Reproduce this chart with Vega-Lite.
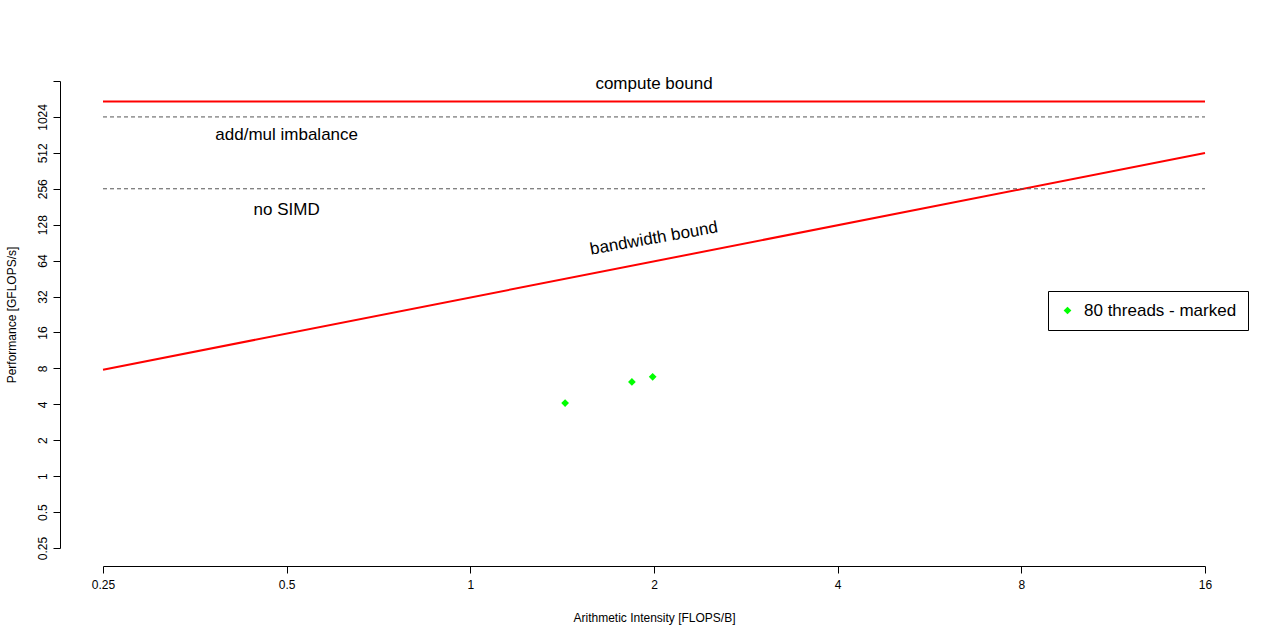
{
  "$schema": "https://vega.github.io/schema/vega-lite/v6.json",
  "width": 1102,
  "height": 467,
  "autosize": "none",
  "padding": {"left": 103, "top": 81, "right": 75, "bottom": 92},
  "background": "white",
  "config": {
    "view": {"stroke": null},
    "font": "Liberation Sans",
    "axis": {"grid": false, "labelFlush": false, "domainColor": "black", "tickColor": "black", "labelColor": "black", "titleColor": "black", "labelFont": "Liberation Sans", "titleFont": "Liberation Sans", "titleFontWeight": "normal", "labelFontSize": 12, "titleFontSize": 12, "tickSize": 7}
  },
  "datasets": {
    "roofs": [
      {"name": "compute", "x1": 0.25, "x2": 16, "y1": 1382, "y2": 1382},
      {"name": "bandwidth", "x1": 0.25, "x2": 16, "y1": 7.8, "y2": 510}
    ],
    "ceilings": [
      {"name": "add/mul imbalance", "x1": 0.25, "x2": 16, "y": 1024},
      {"name": "no SIMD", "x1": 0.25, "x2": 16, "y": 256}
    ],
    "labels": [
      {"text": "compute bound", "x": 2, "y": 1950, "angle": 0},
      {"text": "add/mul imbalance", "x": 0.5, "y": 720, "angle": 0},
      {"text": "no SIMD", "x": 0.5, "y": 170, "angle": 0},
      {"text": "bandwidth bound", "x": 2, "y": 98, "angle": -10}
    ],
    "points": [
      {"series": "80 threads - marked", "ai": 1.43, "perf": 4.1},
      {"series": "80 threads - marked", "ai": 1.84, "perf": 6.16},
      {"series": "80 threads - marked", "ai": 1.99, "perf": 6.8}
    ]
  },
  "layer": [
    {
      "data": {"name": "roofs"},
      "mark": {"type": "rule", "color": "#ff0000", "strokeWidth": 2},
      "encoding": {
        "x": {"field": "x1", "type": "quantitative", "scale": {"type": "log", "base": 2, "domain": [0.25, 16]},
          "axis": {"values": [0.25, 0.5, 1, 2, 4, 8, 16], "format": "~g", "offset": 18, "title": "Arithmetic Intensity [FLOPS/B]", "titlePadding": 22, "labelPadding": 6}},
        "x2": {"field": "x2"},
        "y": {"field": "y1", "type": "quantitative", "scale": {"type": "log", "base": 2, "domain": [0.25, 2048]},
          "axis": {"values": [0.25, 0.5, 1, 2, 4, 8, 16, 32, 64, 128, 256, 512, 1024, 2048], "labelExpr": "datum.value > 1500 ? '' : format(datum.value, '~g')", "offset": 43, "labelAngle": -90, "labelAlign": "center", "labelBaseline": "bottom", "labelPadding": 4, "title": "Performance [GFLOPS/s]", "titlePadding": 18}},
        "y2": {"field": "y2"}
      }
    },
    {
      "data": {"name": "ceilings"},
      "mark": {"type": "rule", "color": "#555555", "strokeWidth": 1, "strokeDash": [4, 3]},
      "encoding": {
        "x": {"field": "x1", "type": "quantitative"},
        "x2": {"field": "x2"},
        "y": {"field": "y", "type": "quantitative"}
      }
    },
    {
      "data": {"name": "labels"},
      "mark": {"type": "text", "fontSize": 17, "color": "black"},
      "encoding": {
        "x": {"field": "x", "type": "quantitative"},
        "y": {"field": "y", "type": "quantitative"},
        "text": {"field": "text"},
        "angle": {"field": "angle", "type": "quantitative", "scale": null}
      }
    },
    {
      "data": {"name": "points"},
      "mark": {"type": "point", "shape": "diamond", "filled": true, "size": 60, "opacity": 1},
      "encoding": {
        "x": {"field": "ai", "type": "quantitative"},
        "y": {"field": "perf", "type": "quantitative"},
        "color": {"field": "series", "type": "nominal", "scale": {"range": ["#00ff00"]},
          "legend": {"title": null, "orient": "none", "legendX": 945, "legendY": 210, "strokeColor": "black", "fillColor": "white", "padding": 11, "labelFontSize": 17, "labelFont": "Liberation Sans", "symbolSize": 60, "symbolType": "diamond", "symbolOpacity": 1, "cornerRadius": 0, "labelOffset": 8}}
      }
    }
  ]
}
